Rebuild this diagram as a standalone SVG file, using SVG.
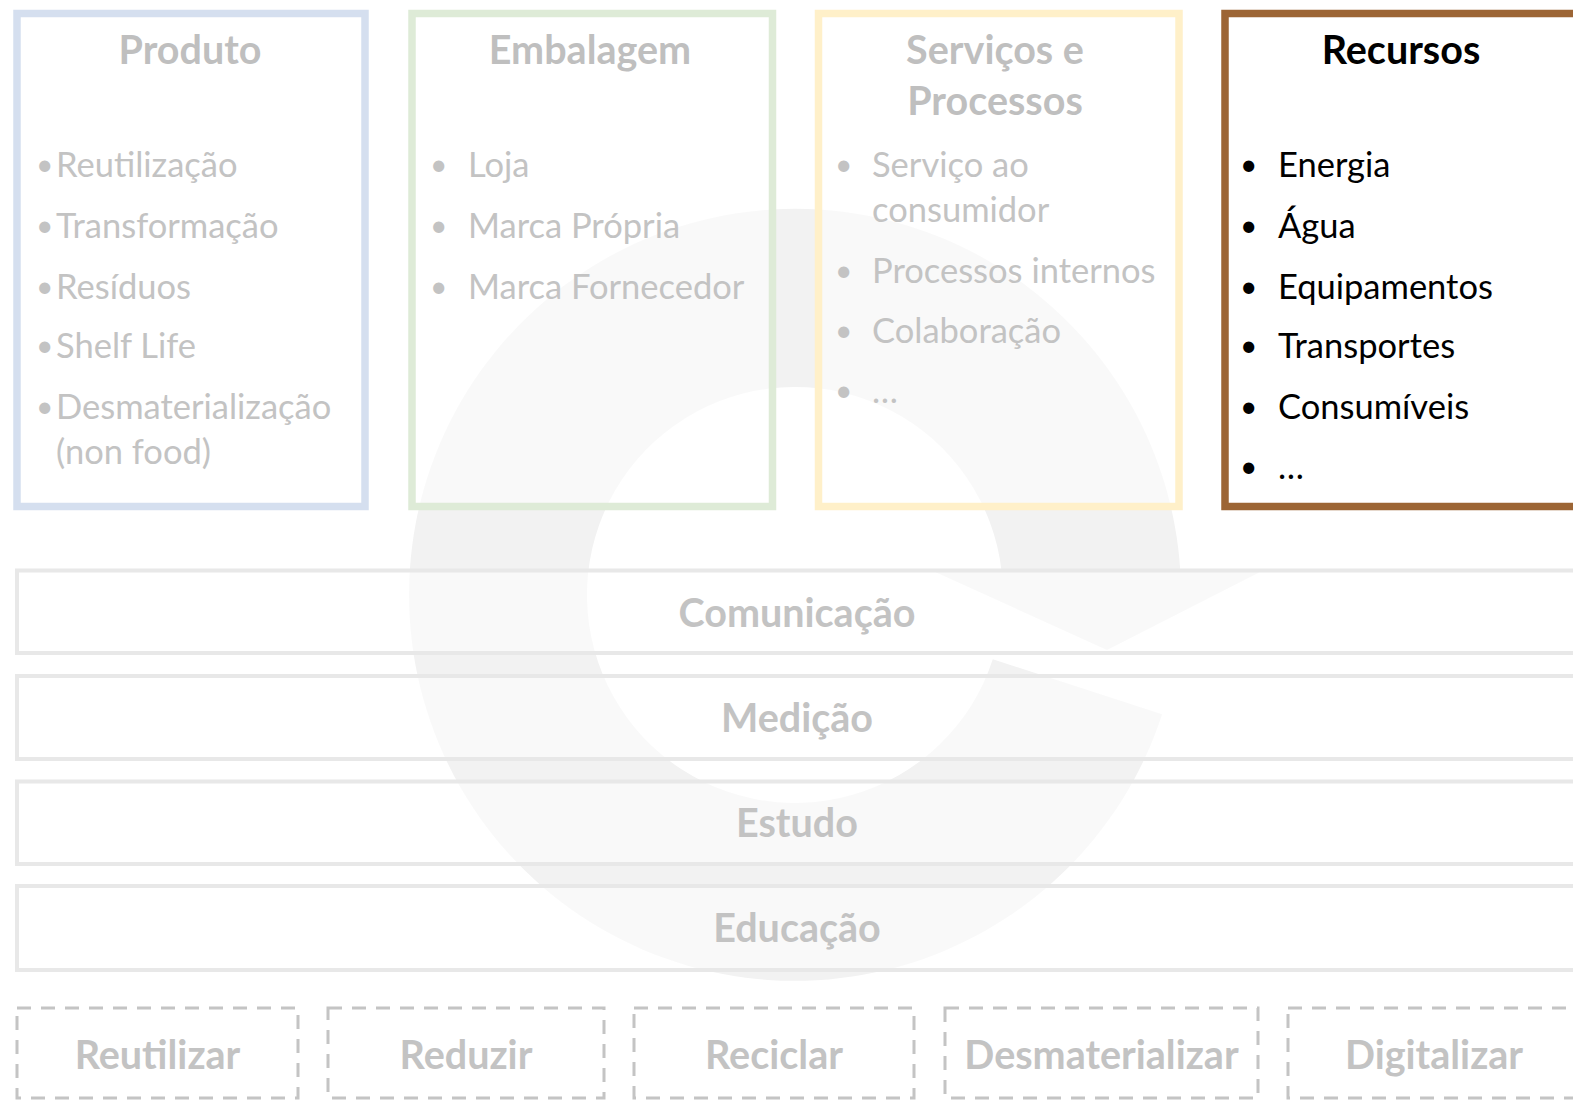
<svg xmlns="http://www.w3.org/2000/svg" width="1573" height="1101" viewBox="0 0 1573 1101">
<style>
  text { font-family: "Lato", "Liberation Sans", sans-serif; }
  .title { font-size: 39.5px; font-weight: bold; fill: #BFBFBF; text-anchor: middle; }
  .titleDark { font-size: 39.5px; font-weight: bold; fill: #000000; text-anchor: middle; }
  .item { font-size: 34.5px; fill: #C3C3C3; }
  .itemDark { font-size: 34.5px; fill: #000000; }
  .bullet { font-size: 30px; fill: #C3C3C3; }
  .bulletDark { font-size: 30px; fill: #000000; }
  .band { fill: #FFFFFF; fill-opacity: 0.55; stroke: #E8E8E8; stroke-width: 4; }
  .bandText { font-size: 39.5px; font-weight: bold; fill: #C3C3C3; text-anchor: middle; }
  .dash { fill: none; stroke: #C4C4C4; stroke-width: 3; stroke-dasharray: 14 10; }
  .box { fill: #FFFFFF; fill-opacity: 0.55; stroke-width: 7.5; }
</style>
<rect x="0" y="0" width="1573" height="1101" fill="#FFFFFF"/>
<path id="cycle" d="M 1162.1 714.3 A 386 386 0 1 1 1180.3 571 L 1262 571 L 1107 650 L 933 571 L 1001.6 571 A 208 208 0 1 0 992.8 659.3 Z" fill="#F2F2F2"/>

<g id="produto">
  <rect class="box" x="17" y="13.5" width="348" height="493" stroke="#D5DFEF"/>
  <text class="title" x="190" y="64">Produto</text>
  <text class="bullet" x="36" y="175">•</text><text class="item" x="56" y="177">Reutilização</text>
  <text class="bullet" x="36" y="236">•</text><text class="item" x="56" y="238">Transformação</text>
  <text class="bullet" x="36" y="297">•</text><text class="item" x="56" y="299">Resíduos</text>
  <text class="bullet" x="36" y="356">•</text><text class="item" x="56" y="358">Shelf Life</text>
  <text class="bullet" x="36" y="417">•</text><text class="item" x="56" y="419">Desmaterialização</text>
  <text class="item" x="56" y="464">(non food)</text>
</g>

<g id="embalagem">
  <rect class="box" x="412" y="13.5" width="360.5" height="493" stroke="#DEEBD7"/>
  <text class="title" x="590" y="64">Embalagem</text>
  <text class="bullet" x="430" y="175">•</text><text class="item" x="468" y="177">Loja</text>
  <text class="bullet" x="430" y="236">•</text><text class="item" x="468" y="238">Marca Própria</text>
  <text class="bullet" x="430" y="297">•</text><text class="item" x="468" y="299">Marca Fornecedor</text>
</g>

<g id="servicos">
  <rect class="box" x="818.5" y="13.5" width="360.5" height="493" stroke="#FFF0C9"/>
  <text class="title" x="995" y="64">Serviços e</text>
  <text class="title" x="995" y="115">Processos</text>
  <text class="bullet" x="835" y="175">•</text><text class="item" x="872" y="177">Serviço ao</text>
  <text class="item" x="872" y="222">consumidor</text>
  <text class="bullet" x="835" y="281">•</text><text class="item" x="872" y="283">Processos internos</text>
  <text class="bullet" x="835" y="341">•</text><text class="item" x="872" y="343">Colaboração</text>
  <text class="bullet" x="835" y="401">•</text><text class="item" x="872" y="403">…</text>
</g>

<g id="recursos">
  <rect class="box" x="1225" y="13.5" width="358" height="493" stroke="#9C6535"/>
  <text class="titleDark" x="1401" y="64">Recursos</text>
  <text class="bulletDark" x="1240" y="175">•</text><text class="itemDark" x="1278" y="177">Energia</text>
  <text class="bulletDark" x="1240" y="236">•</text><text class="itemDark" x="1278" y="238">Água</text>
  <text class="bulletDark" x="1240" y="297">•</text><text class="itemDark" x="1278" y="299">Equipamentos</text>
  <text class="bulletDark" x="1240" y="356">•</text><text class="itemDark" x="1278" y="358">Transportes</text>
  <text class="bulletDark" x="1240" y="417">•</text><text class="itemDark" x="1278" y="419">Consumíveis</text>
  <text class="bulletDark" x="1240" y="477">•</text><text class="itemDark" x="1278" y="479">…</text>
</g>

<g id="comunicacao">
  <rect class="band" x="17" y="570.5" width="1562" height="82.5"/>
  <text class="bandText" x="797" y="627">Comunicação</text>
</g>
<g id="medicao">
  <rect class="band" x="17" y="676" width="1562" height="83"/>
  <text class="bandText" x="797" y="732">Medição</text>
</g>
<g id="estudo">
  <rect class="band" x="17" y="781.5" width="1562" height="82.5"/>
  <text class="bandText" x="797" y="837">Estudo</text>
</g>
<g id="educacao">
  <rect class="band" x="17" y="886" width="1562" height="84"/>
  <text class="bandText" x="797" y="942">Educação</text>
</g>

<g id="reutilizar">
  <rect class="dash" x="17" y="1008" width="281" height="90"/>
  <text class="bandText" x="157.5" y="1069">Reutilizar</text>
</g>
<g id="reduzir">
  <rect class="dash" x="328" y="1008" width="276" height="90"/>
  <text class="bandText" x="466" y="1069">Reduzir</text>
</g>
<g id="reciclar">
  <rect class="dash" x="634" y="1008" width="280" height="90"/>
  <text class="bandText" x="774" y="1069">Reciclar</text>
</g>
<g id="desmaterializar">
  <rect class="dash" x="945" y="1008" width="313" height="90"/>
  <text class="bandText" x="1101.5" y="1069">Desmaterializar</text>
</g>
<g id="digitalizar">
  <rect class="dash" x="1288" y="1008" width="292" height="90"/>
  <text class="bandText" x="1434" y="1069">Digitalizar</text>
</g>

<g id="connectors"></g>
</svg>
